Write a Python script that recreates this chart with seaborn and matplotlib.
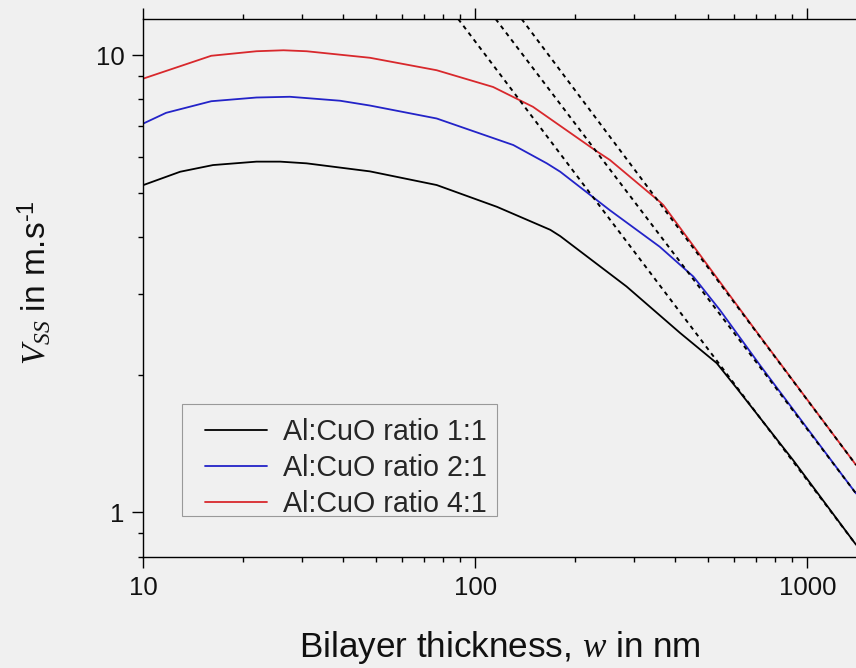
import matplotlib
matplotlib.use("Agg")
import matplotlib.pyplot as plt
import matplotlib.ticker as ticker
from matplotlib.patches import Rectangle
import seaborn as sns
import pandas as pd

# ── Data (log-log) ───────────────────────────────────────────────────────
w_11 = [10, 12.9, 16.2, 21.9, 25.8, 31, 48.1, 76.4, 116, 168, 180, 285, 413, 533, 612, 906, 1400]
v_11 = [5.20, 5.56, 5.75, 5.85, 5.85, 5.80, 5.57, 5.20, 4.66, 4.15, 4.02, 3.12, 2.47, 2.12, 1.87, 1.30, 0.85]

w_21 = [10, 11.7, 16.0, 21.9, 27.6, 39.1, 48.1, 76.4, 130, 164, 180, 254, 359, 453, 545, 719, 1400]
v_21 = [7.09, 7.48, 7.93, 8.08, 8.11, 7.95, 7.76, 7.27, 6.36, 5.80, 5.56, 4.58, 3.81, 3.28, 2.77, 2.10, 1.10]

w_41 = [10, 16.0, 21.9, 26.4, 31, 48.1, 76.4, 113, 149, 229, 254, 359, 368, 695, 1400]
v_41 = [8.89, 9.97, 10.2, 10.25, 10.2, 9.87, 9.27, 8.52, 7.71, 6.20, 5.90, 4.78, 4.70, 2.51, 1.27]

labels = ["Al:CuO ratio 1:1", "Al:CuO ratio 2:1", "Al:CuO ratio 4:1"]
colors = ["#000000", "#2323c8", "#d8282c"]

# asymptotes (dashed), start at top edge, end at right edge
asym_w = [[88.7, 1400], [115, 1400], [137.7, 1400]]
asym_v = [[12, 0.85], [12, 1.10], [12, 1.27]]

# ── Style ─────────────────────────────────────────────────────────────────
sns.set_theme(style="ticks")
BG = "#f0f0f0"
plt.rcParams["font.family"] = ["Liberation Sans", "DejaVu Sans"]
plt.rcParams["mathtext.fontset"] = "custom"
plt.rcParams["mathtext.rm"] = "Liberation Sans"
plt.rcParams["mathtext.it"] = "Liberation Serif:italic"

df = pd.concat([
    pd.DataFrame({"w": w, "v": v, "ratio": lab})
    for w, v, lab in zip([w_11, w_21, w_41], [v_11, v_21, v_41], labels)
])

W, H = 856, 668
fig = plt.figure(figsize=(W / 100, H / 100), dpi=100, facecolor=BG)
ax = fig.add_axes([0.1676, 0.1666, 0.8324, 0.805])
ax.set_facecolor(BG)

sns.lineplot(
    data=df, x="w", y="v", hue="ratio",
    palette=dict(zip(labels, colors)),
    estimator=None, sort=False, linewidth=1.3, ax=ax
)

for aw, av in zip(asym_w, asym_v):
    ax.plot(aw, av, color="black", linestyle=(0, (2.2, 2.2)), linewidth=1.4, zorder=3)

ax.set_xscale("log")
ax.set_yscale("log")
ax.set_xlim(10, 1400)
ax.set_ylim(0.8, 12)

fmt = ticker.FuncFormatter(lambda v, p: f"{v:g}")
ax.xaxis.set_major_formatter(fmt)
ax.yaxis.set_major_formatter(fmt)
ax.xaxis.set_minor_formatter(ticker.NullFormatter())
ax.yaxis.set_minor_formatter(ticker.NullFormatter())

ax.tick_params(which="both", direction="out", top=True, right=False,
               color="black", width=1.0, labelsize=18.5, labelcolor="#111111")
ax.tick_params(which="major", length=7.7, pad=6)
ax.tick_params(which="minor", length=3.8)

for side in ["left", "bottom", "top"]:
    ax.spines[side].set_color("black")
    ax.spines[side].set_linewidth(1.0)
ax.spines["right"].set_visible(False)

ax.set_xlabel(r"Bilayer thickness, $w$ in nm", fontsize=25.3, labelpad=21, color="#111111")
ax.set_ylabel(r"$V_{SS}$ in m.s$^{\text{-1}}$", fontsize=24, color="#111111")
ax.yaxis.set_label_coords(-0.127, 0.509)

# legend: no frame from matplotlib, box drawn separately to match padding
handles, _ = ax.get_legend_handles_labels()
leg = ax.legend(
    handles[:3], labels, loc="upper left",
    bbox_to_anchor=(205 / W, 1 - 418 / H), bbox_transform=fig.transFigure,
    borderaxespad=0, borderpad=0, fontsize=20.6, frameon=False,
    handlelength=2.17, handletextpad=0.55, labelspacing=0.28
)
leg.set_zorder(5)
ax.add_patch(Rectangle(
    (181.7 / W, 1 - 515.7 / H), 315 / W, 111.4 / H, transform=fig.transFigure,
    facecolor=BG, edgecolor="#999999", linewidth=0.8, zorder=4
))

fig.savefig("out.png", dpi=100, facecolor=BG)
